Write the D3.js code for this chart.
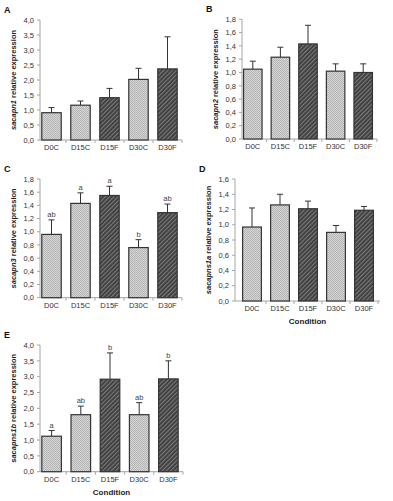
<!DOCTYPE html>
<html lang="en">
<head>
    <meta charset="UTF-8">
    <title>Calpain expression</title>
    <script src="https://d3js.org/d3.v7.min.js"></script>
    <style>
        body { margin: 0; background: #fff; }
        text { font-family: "Liberation Sans", Arial, sans-serif; }
    </style>
</head>
<body>
<script type="text/javascript">
    // data
    var categories = ["D0C", "D15C", "D15F", "D30C", "D30F"];

    var sacapn1Mean = [0.91, 1.16, 1.41, 2.02, 2.37];
    var sacapn1Err = [0.17, 0.14, 0.31, 0.37, 1.07];

    var sacapn2Mean = [1.05, 1.23, 1.43, 1.02, 1.0];
    var sacapn2Err = [0.12, 0.15, 0.28, 0.11, 0.13];

    var sacapn3Mean = [0.96, 1.43, 1.55, 0.76, 1.29];
    var sacapn3Err = [0.22, 0.16, 0.14, 0.12, 0.13];
    var sacapn3Letters = ["ab", "a", "a", "b", "ab"];

    var sacapns1aMean = [0.97, 1.26, 1.21, 0.9, 1.19];
    var sacapns1aErr = [0.25, 0.14, 0.10, 0.09, 0.05];

    var sacapns1bMean = [1.12, 1.8, 2.92, 1.8, 2.93];
    var sacapns1bErr = [0.18, 0.27, 0.83, 0.38, 0.57];
    var sacapns1bLetters = ["a", "ab", "b", "ab", "b"];

    var yTicksA = [0, 0.5, 1, 1.5, 2, 2.5, 3, 3.5, 4];
    var yTicksB = [0, 0.2, 0.4, 0.6, 0.8, 1, 1.2, 1.4, 1.6, 1.8];
    var yTicksD = [0, 0.2, 0.4, 0.6, 0.8, 1, 1.2, 1.4, 1.6];

    var panels = [
        {tag: "A", gene: "sacapn1", mean: sacapn1Mean, err: sacapn1Err, letters: null, ticks: yTicksA,
            axisX: 40, bandStart: 37, bandEnd: 182, lineEnd: 182, top: 20, bottom: 140, condition: false},
        {tag: "B", gene: "sacapn2", mean: sacapn2Mean, err: sacapn2Err, letters: null, ticks: yTicksB,
            axisX: 242, bandStart: 239, bandEnd: 377, lineEnd: 377, top: 19.3, bottom: 139, condition: false},
        {tag: "C", gene: "sacapn3", mean: sacapn3Mean, err: sacapn3Err, letters: sacapn3Letters, ticks: yTicksB,
            axisX: 40, bandStart: 37, bandEnd: 182, lineEnd: 182, top: 179, bottom: 297.7, condition: false},
        {tag: "D", gene: "sacapns1a", mean: sacapns1aMean, err: sacapns1aErr, letters: null, ticks: yTicksD,
            axisX: 235, bandStart: 238, bandEnd: 378, lineEnd: 380, top: 179, bottom: 301, condition: true},
        {tag: "E", gene: "sacapns1b", mean: sacapns1bMean, err: sacapns1bErr, letters: sacapns1bLetters, ticks: yTicksA,
            axisX: 40, bandStart: 37, bandEnd: 183, lineEnd: 183, top: 345, bottom: 471.7, condition: true}
    ];

    var svgWidth = 393;
    var svgHeight = 501;
    var axisColor = "#a6a6a6";
    var inkColor = "#333";

    var svg = d3.select("body").append("svg")
        .attr("width", svgWidth)
        .attr("height", svgHeight);

    // fill patterns: fine check for the controls, diagonal hatch for the fed groups
    var defs = svg.append("defs");
    var light = defs.append("pattern")
        .attr("id", "lightFill")
        .attr("width", 2).attr("height", 2)
        .attr("patternUnits", "userSpaceOnUse");
    light.append("rect").attr("width", 2).attr("height", 2).attr("fill", "#d6d6d6");
    light.append("rect").attr("width", 1).attr("height", 1).attr("fill", "#b4b4b4");
    light.append("rect").attr("x", 1).attr("y", 1).attr("width", 1).attr("height", 1).attr("fill", "#b4b4b4");

    var dark = defs.append("pattern")
        .attr("id", "darkFill")
        .attr("width", 3).attr("height", 3)
        .attr("patternUnits", "userSpaceOnUse")
        .attr("patternTransform", "rotate(45)");
    dark.append("rect").attr("width", 3).attr("height", 3).attr("fill", "#3c3c3c");
    dark.append("rect").attr("width", 1.2).attr("height", 3).attr("fill", "#7a7a7a");

    var isFed = function (cat) {
        return cat.slice(-1) === "F";
    };

    var fmt = function (v) {
        return d3.format(".1f")(v).replace(".", ",");
    };

    panels.forEach(function (p) {
        var data = categories.map(function (c, i) {
            return {cat: c, mean: p.mean[i], err: p.err[i], letter: p.letters ? p.letters[i] : null};
        });

        var xScale = d3.scaleBand()
            .domain(categories)
            .range([p.bandStart, p.bandEnd])
            .paddingInner(0.33)
            .paddingOuter(0.165);
        var yScale = d3.scaleLinear()
            .domain([0, d3.max(p.ticks)])
            .range([p.bottom, p.top]);

        var g = svg.append("g");

        // y axis
        g.append("line")
            .attr("x1", p.axisX).attr("x2", p.axisX)
            .attr("y1", p.top).attr("y2", p.bottom)
            .attr("stroke", axisColor);
        g.selectAll(".ytick")
            .data(p.ticks)
            .enter()
            .append("line")
            .attr("x1", p.axisX - 3).attr("x2", p.axisX)
            .attr("y1", function (d) { return yScale(d); })
            .attr("y2", function (d) { return yScale(d); })
            .attr("stroke", axisColor);
        g.selectAll(".ylabel")
            .data(p.ticks)
            .enter()
            .append("text")
            .attr("x", p.axisX - 6)
            .attr("y", function (d) { return yScale(d) + 2.7; })
            .attr("text-anchor", "end")
            .attr("font-size", "7.5px")
            .attr("fill", inkColor)
            .text(fmt);

        // x axis
        g.append("line")
            .attr("x1", p.axisX).attr("x2", p.lineEnd)
            .attr("y1", p.bottom).attr("y2", p.bottom)
            .attr("stroke", axisColor);
        var step = xScale.step();
        g.selectAll(".xtick")
            .data(categories)
            .enter()
            .append("line")
            .attr("x1", function (d) { return xScale(d) + xScale.bandwidth() / 2 + step / 2; })
            .attr("x2", function (d) { return xScale(d) + xScale.bandwidth() / 2 + step / 2; })
            .attr("y1", p.bottom).attr("y2", p.bottom + 3)
            .attr("stroke", axisColor);
        g.selectAll(".xlabel")
            .data(categories)
            .enter()
            .append("text")
            .attr("x", function (d) { return xScale(d) + xScale.bandwidth() / 2; })
            .attr("y", p.bottom + 10)
            .attr("text-anchor", "middle")
            .attr("font-size", "7.5px")
            .attr("fill", inkColor)
            .text(function (d) { return d; });

        // error bars (upper only)
        g.selectAll(".err")
            .data(data)
            .enter()
            .append("path")
            .attr("d", function (d) {
                var cx = xScale(d.cat) + xScale.bandwidth() / 2;
                var y0 = yScale(d.mean);
                var y1 = yScale(d.mean + d.err);
                return "M" + cx + "," + y0 + "V" + y1 + "M" + (cx - 3) + "," + y1 + "H" + (cx + 3);
            })
            .attr("stroke", inkColor)
            .attr("stroke-width", 1)
            .attr("fill", "none");

        // bars
        g.selectAll(".bar")
            .data(data)
            .enter()
            .append("rect")
            .attr("x", function (d) { return xScale(d.cat); })
            .attr("y", function (d) { return yScale(d.mean); })
            .attr("width", xScale.bandwidth())
            .attr("height", function (d) { return p.bottom - yScale(d.mean); })
            .attr("fill", function (d) { return isFed(d.cat) ? "url(#darkFill)" : "url(#lightFill)"; })
            .attr("stroke", inkColor)
            .attr("stroke-width", 1.2);

        // significance letters
        if (p.letters) {
            g.selectAll(".sig")
                .data(data)
                .enter()
                .append("text")
                .attr("x", function (d) { return xScale(d.cat) + xScale.bandwidth() / 2; })
                .attr("y", function (d) { return yScale(d.mean + d.err) - 3; })
                .attr("text-anchor", "middle")
                .attr("font-size", "7.5px")
                .attr("fill", "#444")
                .text(function (d) { return d.letter; });
        }

        // y title: italic gene name + plain rest
        var title = g.append("text")
            .attr("transform", "translate(" + (p.axisX - 24) + "," + ((p.top + p.bottom) / 2) + ") rotate(-90)")
            .attr("text-anchor", "middle")
            .attr("font-size", "7.5px")
            .attr("font-weight", "bold")
            .attr("fill", "#222");
        title.append("tspan").attr("font-style", "italic").text(p.gene);
        title.append("tspan").text(" relative expression");

        // panel tag
        g.append("text")
            .attr("x", p.axisX - 36)
            .attr("y", p.top - 7)
            .attr("font-size", "9px")
            .attr("font-weight", "bold")
            .attr("fill", "#111")
            .text(p.tag);

        if (p.condition) {
            g.append("text")
                .attr("x", (p.axisX + p.lineEnd) / 2)
                .attr("y", p.bottom + 23)
                .attr("text-anchor", "middle")
                .attr("font-size", "8px")
                .attr("font-weight", "bold")
                .attr("fill", "#222")
                .text("Condition");
        }
    });
</script>
</body>
</html>
